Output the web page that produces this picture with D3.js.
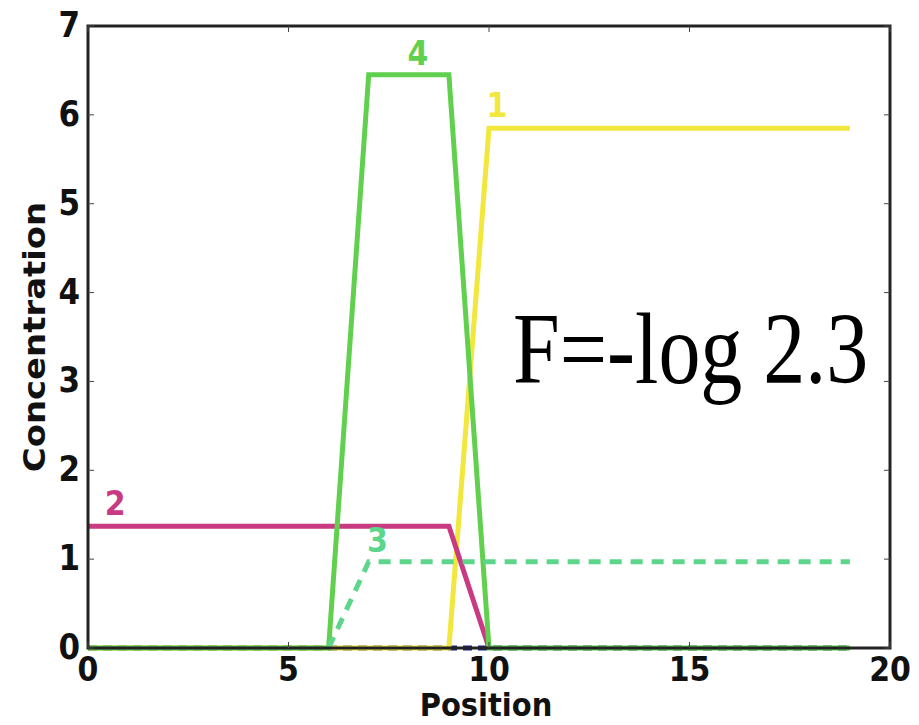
<!DOCTYPE html>
<html><head><meta charset="utf-8">
<script src="https://cdn.jsdelivr.net/npm/d3@7"></script>
<style>body{margin:0;background:#fff}</style>
</head><body>
<svg id="c" width="919" height="725"></svg>
<script>
// Data
const positions1 = [0, 9, 10, 19];
const series1 = [0, 0, 5.85, 5.85];          // yellow "1"
const positions2 = [0, 9, 10];
const series2 = [1.37, 1.37, 0];             // magenta "2"
const positions3 = [6, 7, 19];
const series3 = [0, 0.97, 0.97];             // dashed teal "3"
const positions4 = [0, 6, 7, 9, 10, 19];
const series4 = [0, 0, 6.45, 6.45, 0, 0];    // green "4"
const positions5 = [0, 19];
const series5 = [0, 0];                      // dark dashed baseline
const xTicks = [0, 5, 10, 15, 20];
const yTicks = [0, 1, 2, 3, 4, 5, 6, 7];
const seriesLabels = ["1", "2", "3", "4"];
const annotation = "F=-log 2.3";

const svg = d3.select("#c");
const L = 88, R = 890, T = 26, B = 648;
const x = d3.scaleLinear().domain([0, 20]).range([L, R]);
const y = d3.scaleLinear().domain([0, 7]).range([B, T]);
const SY = 1.13;
const font = "'DejaVu Sans', sans-serif";

function txt(px, py, s, opts) {
  const g = svg.append("g").attr("transform", `translate(${px},${py}) scale(1,${opts.sy || SY})${opts.rot ? " rotate(" + opts.rot + ")" : ""}`);
  g.append("text").text(s)
    .attr("font-family", opts.family || font)
    .attr("font-weight", opts.weight || "bold")
    .attr("font-size", opts.size || 30)
    .attr("fill", opts.fill || "#111")
    .attr("text-anchor", opts.anchor || "middle");
  return g;
}

const line = (xs) => d3.line().x((d, i) => x(xs[i])).y(d => y(d));

function draw(xs, ys, color, dash) {
  svg.append("path").datum(ys).attr("d", line(xs))
    .attr("fill", "none").attr("stroke", color).attr("stroke-width", 5)
    .attr("stroke-linejoin", "miter")
    .attr("stroke-dasharray", dash || null);
}

draw(positions5, series5, "#1b1f8a", "9,6");
draw(positions1, series1, "#f2e73c");
draw(positions2, series2, "#c83a82");
draw(positions4, series4, "#62d04f");
draw(positions3, series3, "#5dd68c", "12,9");

// frame
svg.append("rect").attr("x", L).attr("y", T).attr("width", R - L).attr("height", B - T)
  .attr("fill", "none").attr("stroke", "#222").attr("stroke-width", 3);

// ticks (inward, small)
xTicks.forEach(t => {
  svg.append("line").attr("x1", x(t)).attr("x2", x(t)).attr("y1", B).attr("y2", B - 6).attr("stroke", "#444").attr("stroke-width", 1);
  svg.append("line").attr("x1", x(t)).attr("x2", x(t)).attr("y1", T).attr("y2", T + 6).attr("stroke", "#444").attr("stroke-width", 1);
  txt(x(t), 681, String(t), {size: 30, sy: 1.1});
});
yTicks.forEach(t => {
  svg.append("line").attr("x1", L).attr("x2", L + 6).attr("y1", y(t)).attr("y2", y(t)).attr("stroke", "#444").attr("stroke-width", 1);
  svg.append("line").attr("x1", R).attr("x2", R - 6).attr("y1", y(t)).attr("y2", y(t)).attr("stroke", "#444").attr("stroke-width", 1);
  txt(80, y(t) + 11, String(t), {size: 31, anchor: "end"});
});

txt(486, 716, "Position", {size: 29, sy: 1.12});
txt(45, 337, "Concentration", {size: 30, rot: -90});

// series labels
txt(x(10.2), 117, seriesLabels[0], {size: 30, fill: "#f2e73c"});
txt(x(0.68), 515, seriesLabels[1], {size: 30, fill: "#c83a82"});
txt(x(7.22), 552, seriesLabels[2], {size: 30, fill: "#5dd68c"});
txt(x(8.23), 65, seriesLabels[3], {size: 30, fill: "#62d04f"});

// annotation
txt(513, 383, annotation, {size: 84, anchor: "start", family: "'Liberation Serif', 'Times New Roman', serif", weight: "normal", sy: 1.2, fill: "#000"});
</script>
</body></html>
